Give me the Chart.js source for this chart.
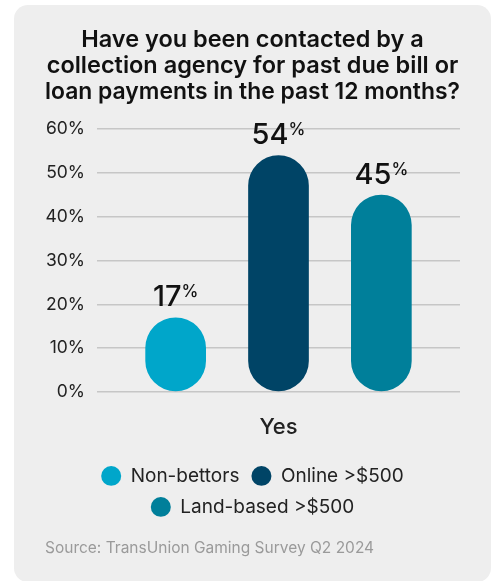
<!DOCTYPE html>
<html>
<head>
<meta charset="utf-8">
<script src="https://cdn.jsdelivr.net/npm/chart.js@4.4.1/dist/chart.umd.min.js"></script>
<style>
  body { margin: 0; background: #ffffff; }
  #card {
    position: absolute; left: 14px; top: 5px;
    width: 477px; height: 577px;
    background: #eeeeee; border-radius: 14px;
  }
</style>
</head>
<body>
<div id="card"><canvas id="bar-chartcanvas"></canvas></div>
<script>
var categories = ["Yes"];
var groups = ["Non-bettors", "Online >$500", "Land-based >$500"];
var values = [17, 54, 45];
var colors = ["#00a6ca", "#004466", "#007f9a"];
var yTicks = [0, 10, 20, 30, 40, 50, 60];

var FONT = "Inter, 'DejaVu Sans', sans-serif";

// number above each bar, with a small raised % sign
var valueLabels = {
  id: "valueLabels",
  afterDatasetsDraw: function(chart) {
    var ctx = chart.ctx;
    ctx.save();
    chart.data.datasets.forEach(function(ds, i) {
      var bar = chart.getDatasetMeta(i).data[0];
      var num = String(ds.data[0]);
      ctx.font = "500 29px " + FONT;
      var w1 = ctx.measureText(num).width;
      ctx.font = "500 17px " + FONT;
      var w2 = ctx.measureText("%").width;
      var x = bar.x - (w1 + w2) / 2;
      var y = bar.y - 11;
      ctx.fillStyle = "#111111";
      ctx.textBaseline = "alphabetic";
      ctx.textAlign = "left";
      ctx.font = "500 29px " + FONT;
      ctx.fillText(num, x, y);
      ctx.font = "500 17px " + FONT;
      ctx.fillText("%", x + w1, y - 9);
    });
    ctx.restore();
  }
};

var datasets = [];
for (var i = 0; i < groups.length; i++) {
  datasets.push({
    label: groups[i],
    data: [values[i]],
    backgroundColor: colors[i],
    borderWidth: 0,
    borderRadius: 40,
    borderSkipped: false
  });
}

var ctx = document.getElementById("bar-chartcanvas");

var chart = new Chart(ctx, {
  type: "bar",
  data: { labels: categories, datasets: datasets },
  plugins: [valueLabels],
  options: {
    responsive: true,
    maintainAspectRatio: false,
    animation: false,
    layout: { padding: { left: 31, right: 31, top: 0, bottom: 0 } },
    datasets: { bar: { categoryPercentage: 0.85, barPercentage: 0.59 } },
    scales: {
      x: {
        grid: { display: false },
        border: { display: false },
        ticks: { color: "#222222", padding: 14, font: { family: FONT, size: 22, weight: "500" } }
      },
      y: {
        min: 0,
        max: 60,
        afterBuildTicks: function(axis) {
          axis.ticks = yTicks.map(function(v) { return { value: v }; });
        },
        afterFit: function(axis) { axis.width = 52; },
        grid: { color: "#c6c6c6", lineWidth: 1.5, drawTicks: false },
        border: { display: false },
        ticks: {
          color: "#222222",
          padding: 12,
          font: { family: FONT, size: 17.5 },
          callback: function(v) { return v + "%"; }
        }
      }
    },
    plugins: {
      tooltip: { enabled: false },
      title: {
        display: true,
        text: ["Have you been contacted by a", "collection agency for past due bill or", "loan payments in the past 12 months?"],
        color: "#111111",
        font: { family: FONT, size: 23.5, weight: "600", lineHeight: 1.106 },
        padding: { top: 22, bottom: 24 }
      },
      legend: {
        position: "bottom",
        labels: {
          color: "#222222",
          usePointStyle: true,
          pointStyle: "circle",
          pointStyleWidth: 20,
          boxHeight: 14,
          padding: 12,
          font: { family: FONT, size: 19 }
        }
      },
      subtitle: {
        display: true,
        position: "bottom",
        align: "start",
        text: "Source: TransUnion Gaming Survey Q2 2024",
        color: "#9a9a9a",
        font: { family: FONT, size: 15.5 },
        padding: { top: 13, bottom: 24 }
      }
    }
  }
});
</script>
</body>
</html>
